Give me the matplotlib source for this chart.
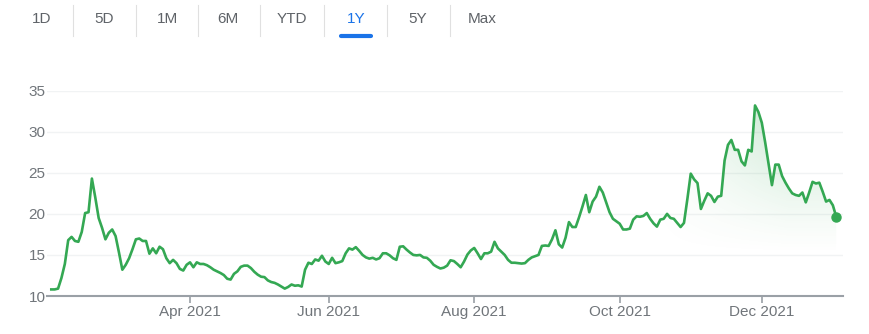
import numpy as np
import pandas as pd
import matplotlib
matplotlib.use('Agg')
import matplotlib.pyplot as plt
from matplotlib.lines import Line2D
from matplotlib.patches import Polygon
from matplotlib.colors import to_rgb

plt.rcParams['font.family'] = ['Liberation Sans', 'DejaVu Sans']

# range selector on top of the chart
RANGES = ['1D', '5D', '1M', '6M', 'YTD', '1Y', '5Y', 'Max']
ACTIVE_RANGE = '1Y'

# trading days shown in the 1Y view
START, END = '2021-02-02', '2022-01-03'
HOLIDAYS = ['2021-02-15', '2021-04-02', '2021-05-31', '2021-07-05',
            '2021-09-06', '2021-11-25', '2021-12-24']

# closing prices, one per trading day
PRICES = [
    10.8, 10.8, 10.9, 12.2, 13.9, 16.8, 17.2, 16.7, 16.6, 17.8,
    20.1, 20.2, 24.3, 22.0, 19.5, 18.3, 16.9, 17.7, 18.1, 17.3,
    15.3, 13.2, 13.8, 14.6, 15.7, 16.9, 17.0, 16.7, 16.7, 15.15,
    15.8, 15.2, 16.0, 15.7, 14.6, 14.0, 14.4, 14.0, 13.3, 13.1,
    13.8, 14.1, 13.5, 14.1, 13.9, 13.9, 13.75, 13.5, 13.2, 13.0,
    12.8, 12.55, 12.1, 12.0, 12.7, 13.0, 13.55, 13.7, 13.7, 13.4,
    12.95, 12.6, 12.35, 12.3, 11.9, 11.7, 11.6, 11.4, 11.15, 10.9,
    11.1, 11.4, 11.25, 11.3, 11.15, 13.2, 14.05, 13.9, 14.45, 14.3,
    14.9, 14.2, 13.9, 14.65, 14.0, 14.1, 14.25, 15.2, 15.8, 15.65,
    15.95, 15.5, 15.0, 14.7, 14.55, 14.65, 14.45, 14.6, 15.2, 15.2,
    14.95, 14.6, 14.4, 16.0, 16.05, 15.65, 15.3, 15.0, 14.95, 15.0,
    14.7, 14.65, 14.3, 13.8, 13.55, 13.35, 13.45, 13.7, 14.35, 14.25,
    13.9, 13.5, 14.2, 15.05, 15.55, 15.85, 15.2, 14.5, 15.2, 15.2,
    15.4, 16.6, 15.8, 15.4, 15.0, 14.4, 14.05, 14.05, 14.0, 13.95,
    14.0, 14.4, 14.7, 14.85, 15.0, 16.1, 16.15, 16.1, 16.9, 18.0,
    16.3, 15.9, 17.1, 19.0, 18.4, 18.4, 19.6, 20.9, 22.3, 20.2,
    21.5, 22.1, 23.3, 22.6, 21.4, 20.2, 19.4, 19.1, 18.8, 18.1,
    18.1, 18.2, 19.3, 19.7, 19.65, 19.75, 20.1, 19.4, 18.85, 18.45,
    19.3, 19.4, 20.0, 19.5, 19.4, 18.9, 18.4, 18.9, 21.8, 24.9,
    24.2, 23.75, 20.6, 21.6, 22.5, 22.2, 21.45, 22.1, 22.2, 26.5,
    28.4, 29.0, 27.8, 27.8, 26.4, 25.9, 27.8, 27.6, 33.2, 32.4,
    31.1, 28.7, 26.1, 23.5, 26.0, 26.0, 24.6, 23.8, 23.1, 22.5,
    22.3, 22.2, 22.6, 21.4, 22.6, 23.9, 23.7, 23.8, 22.7, 21.5,
    21.7, 21.05, 19.65,
]

Y_TICKS = [10, 15, 20, 25, 30, 35]
TICK_MONTHS = ['2021-04-01', '2021-06-01', '2021-08-01', '2021-10-01', '2021-12-01']

GREEN = '#34a853'
GREY_TEXT = '#70757a'

dates = pd.bdate_range(START, END, freq='C', holidays=HOLIDAYS)
x = np.arange(len(dates))
prices = np.array(PRICES)

fig = plt.figure(figsize=(8.69, 3.34), dpi=100)
W, H = 869, 334

# --- range tabs ---
tab_x = [42, 104, 167, 228, 292, 356, 418, 482]
for cx, label in zip(tab_x, RANGES):
    active = label == ACTIVE_RANGE
    fig.text(cx / W, 1 - 19 / H, label, ha='center', va='center', fontsize=11,
             color='#1a73e8' if active else '#5f6368')
    if active:
        fig.add_artist(Line2D([(cx - 15) / W, (cx + 15) / W], [1 - 36 / H] * 2,
                              lw=3, color='#1a73e8', solid_capstyle='round'))
for a, b in zip(tab_x[:-1], tab_x[1:]):
    sx = (a + b) / 2 / W
    fig.add_artist(Line2D([sx, sx], [1 - 5 / H, 1 - 36 / H], lw=0.8, color='#e0e0e0'))

# --- chart ---
ax = fig.add_axes([47 / W, 38 / H, 796 / W, 205.3 / H])
x0, x1 = -1.27, 234.0

# gradient fill under the line, clipped to the area below it
gx, gy = np.meshgrid(np.linspace(x0, x1, 400), np.linspace(10, 35, 200))
fx = np.clip((gx - 178) / 40, 0, 1)
fy = np.clip((gy - 15) / 18, 0, 1)
rgba = np.zeros(gx.shape + (4,))
rgba[..., :3] = to_rgb(GREEN)
rgba[..., 3] = 0.28 * fx * fy ** 1.2
im = ax.imshow(rgba, extent=[x0, x1, 10, 35], origin='lower', aspect='auto',
               interpolation='bilinear', zorder=1)
area = Polygon(np.column_stack([np.r_[x[0], x, x[-1]], np.r_[10, prices, 10]]),
               closed=True, facecolor='none', edgecolor='none', transform=ax.transData)
ax.add_patch(area)
im.set_clip_path(area)

ax.plot(x, prices, color=GREEN, lw=1.9, solid_joinstyle='round', zorder=3)
ax.plot(x[-1], prices[-1], 'o', ms=6.5, color=GREEN, zorder=4)

ax.set_xlim(x0, x1)
ax.set_ylim(10, 35)

ax.set_yticks(Y_TICKS)
ax.grid(axis='y', color='#f1f3f4', lw=1)
ax.set_axisbelow(True)

tick_pos = [int(np.searchsorted(dates, pd.Timestamp(m))) for m in TICK_MONTHS]
ax.set_xticks(tick_pos)
ax.set_xticklabels([dates[i].strftime('%b %Y') for i in tick_pos])

for side in ['top', 'right', 'left']:
    ax.spines[side].set_visible(False)
ax.spines['bottom'].set_color('#9aa0a6')
ax.spines['bottom'].set_linewidth(1.5)

ax.tick_params(axis='y', length=0, pad=1, labelsize=11, labelcolor=GREY_TEXT)
ax.tick_params(axis='x', length=5, width=1.2, color='#9aa0a6', pad=1.5,
               labelsize=11, labelcolor=GREY_TEXT)

fig.savefig('out.png', dpi=100)
